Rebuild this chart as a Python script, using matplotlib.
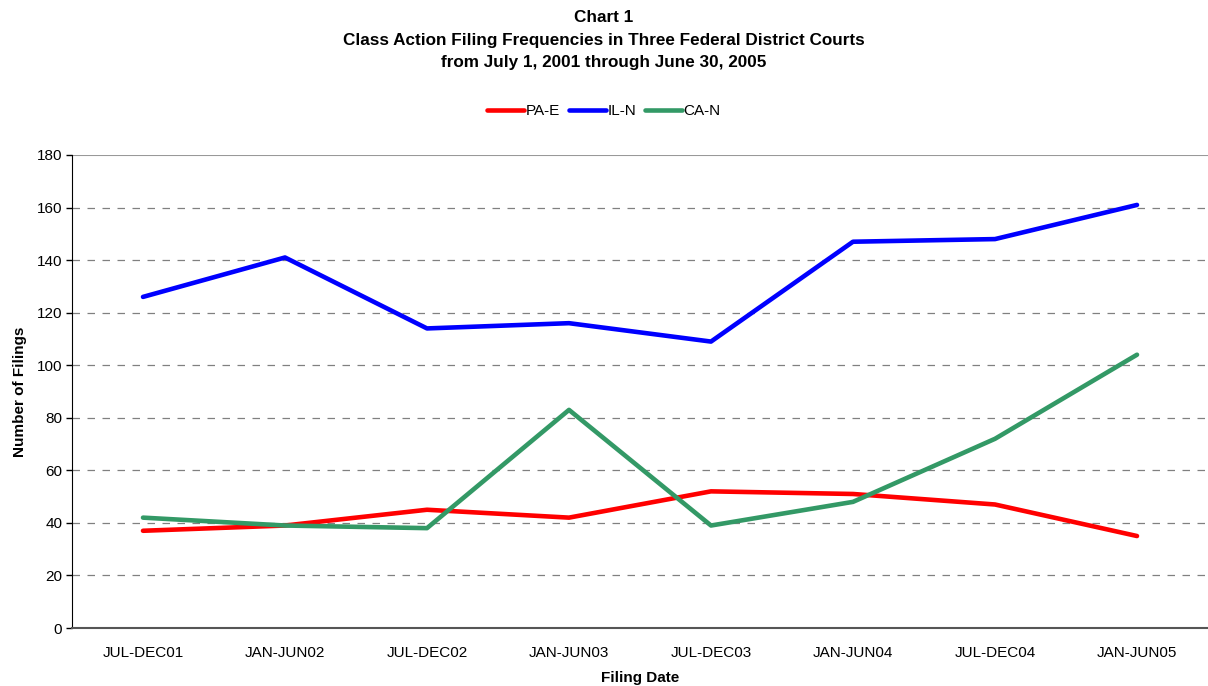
import matplotlib.pyplot as plt

plt.rcParams['font.family'] = ['Liberation Sans', 'DejaVu Sans']

periods = ['JUL-DEC01', 'JAN-JUN02', 'JUL-DEC02', 'JAN-JUN03',
           'JUL-DEC03', 'JAN-JUN04', 'JUL-DEC04', 'JAN-JUN05']
pa_e = [37, 39, 45, 42, 52, 51, 47, 35]
il_n = [126, 141, 114, 116, 109, 147, 148, 161]
ca_n = [42, 39, 38, 83, 39, 48, 72, 104]
title_lines = ['Chart 1',
               'Class Action Filing Frequencies in Three Federal District Courts',
               'from July 1, 2001 through June 30, 2005']

fig = plt.figure(figsize=(12.08, 6.86), dpi=100)
ax = fig.add_axes([72 / 1208, 1 - 628 / 686, 1 - 72 / 1208, (628 - 155) / 686])

x = range(len(periods))
ax.plot(x, pa_e, color='#ff0000', lw=3.3, label='PA-E', solid_capstyle='round')
ax.plot(x, il_n, color='#0000ff', lw=3.3, label='IL-N', solid_capstyle='round')
ax.plot(x, ca_n, color='#339966', lw=3.3, label='CA-N', solid_capstyle='round')

ax.set_xlim(-0.5, 7.5)
ax.set_ylim(0, 180)
ax.set_yticks(range(0, 181, 20))
ax.set_xticks(list(x))
ax.set_xticklabels(periods)
ax.tick_params(axis='x', length=0, pad=13, labelsize=11)
ax.tick_params(axis='y', length=4, width=1, labelsize=11, pad=3)

for y in range(20, 180, 20):
    ax.axhline(y, color='#808080', lw=0.9, ls=(0, (6, 6)), zorder=0)
ax.axhline(180, color='#999999', lw=1.5, zorder=0)

ax.spines['top'].set_visible(False)
ax.spines['right'].set_visible(False)
ax.spines['left'].set_color('black')
ax.spines['bottom'].set_color('#555555')
ax.spines['bottom'].set_linewidth(1.5)

ax.set_ylabel('Number of Filings', fontsize=11, fontweight='bold', labelpad=7)
ax.set_xlabel('Filing Date', fontsize=11, fontweight='bold', labelpad=8)

for line, ypx in zip(title_lines, [17, 41, 62]):
    fig.text(0.5, 1 - ypx / 686, line, ha='center', va='center',
             fontsize=12.3, fontweight='bold')

fig.legend(loc='center', bbox_to_anchor=(0.5, 1 - 111 / 686), ncol=3, frameon=False,
           fontsize=11, handlelength=2.4, handletextpad=0.1, columnspacing=0.6)

fig.savefig('out.png', dpi=100)
